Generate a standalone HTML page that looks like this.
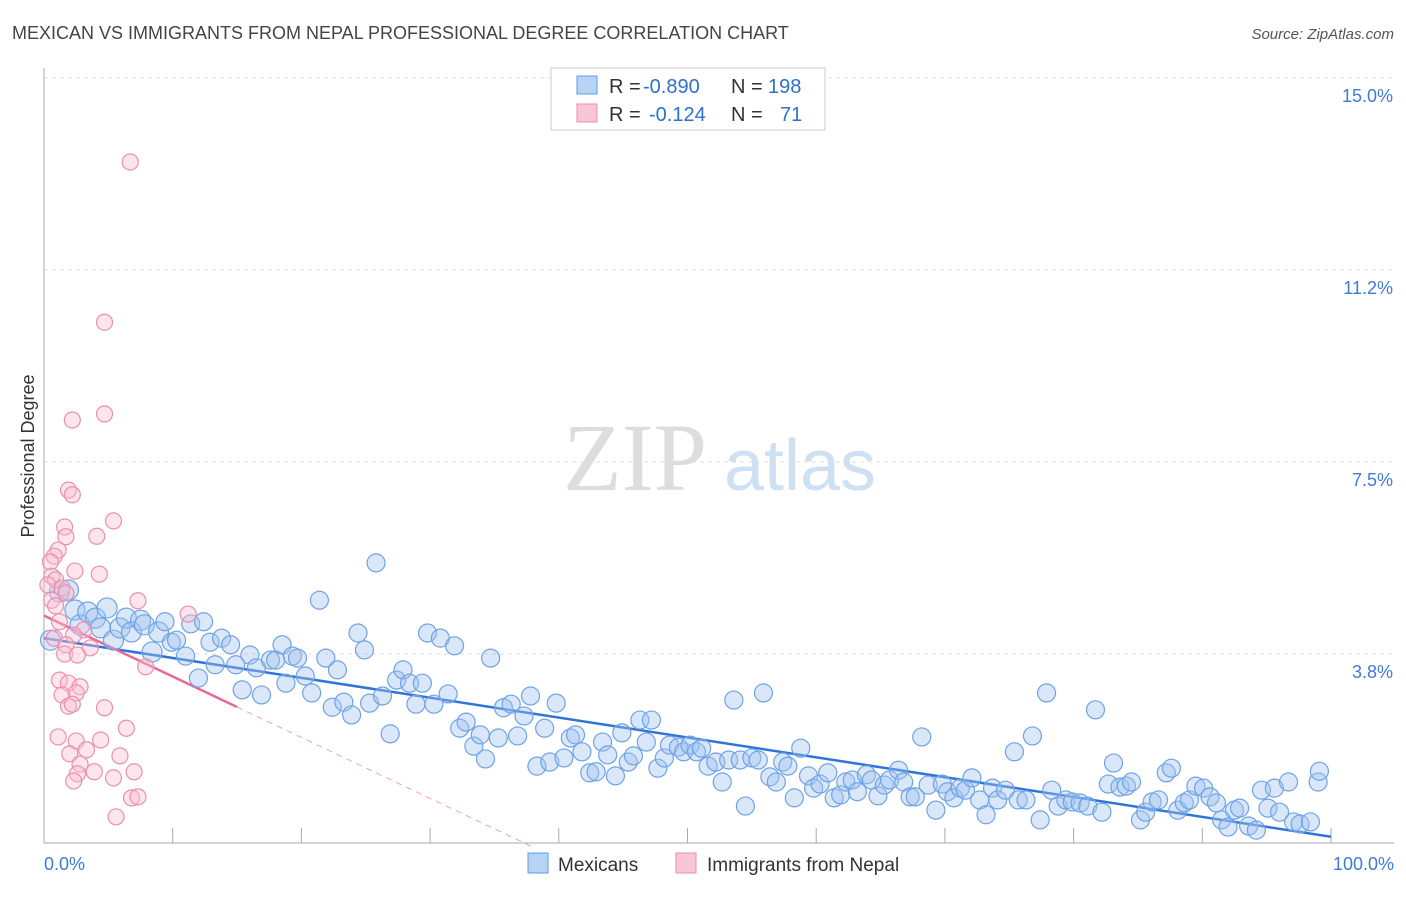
<!DOCTYPE html>
<html><head><meta charset="utf-8"><style>
body{margin:0;background:#fff;font-family:"Liberation Sans",sans-serif;}
svg text{font-family:"Liberation Sans",sans-serif;}
</style></head><body>
<svg id="chart" width="1406" height="892">
<text x="12" y="39" font-size="18" fill="#444">MEXICAN VS IMMIGRANTS FROM NEPAL PROFESSIONAL DEGREE CORRELATION CHART</text>
<text x="1394" y="39" font-size="15" fill="#555" font-style="italic" text-anchor="end">Source: ZipAtlas.com</text>
<text x="34" y="456" font-size="18" fill="#333" text-anchor="middle" transform="rotate(-90 34 456)">Professional Degree</text>
<g id="watermark">
<text x="635" y="490" font-size="96" fill="#ddd" text-anchor="middle" font-family="Liberation Serif" style="font-family:'Liberation Serif',serif">ZIP</text>
<text x="800" y="490" font-size="72" fill="#cfe0f3" text-anchor="middle">atlas</text>
</g>
<g id="grid"></g>
<g id="trends"></g>
<g id="points"></g>
<g id="legend">
<rect x="551" y="68" width="274" height="62" fill="#fff" stroke="#ccc"/>
<rect x="577" y="76" width="20" height="18" fill="#b8d4f5" stroke="#5b9be6"/>
<rect x="577" y="104" width="20" height="18" fill="#f9c6d4" stroke="#eb8fac"/>
<text x="609" y="93" font-size="20" fill="#333">R =</text>
<text x="643" y="93" font-size="20" fill="#2f6fd0">-0.890</text>
<text x="731" y="93" font-size="20" fill="#333">N =</text>
<text x="768" y="93" font-size="20" fill="#2f6fd0">198</text>
<text x="609" y="121" font-size="20" fill="#333">R =</text>
<text x="649" y="121" font-size="20" fill="#2f6fd0">-0.124</text>
<text x="731" y="121" font-size="20" fill="#333">N =</text>
<text x="780" y="121" font-size="20" fill="#2f6fd0">71</text>
</g>
<g id="bottom-legend">
<rect x="528" y="853" width="20" height="20" fill="#b8d4f5" stroke="#5b9be6"/>
<text x="558" y="871" font-size="19" fill="#333">Mexicans</text>
<rect x="676" y="853" width="20" height="20" fill="#f9c6d4" stroke="#eb8fac"/>
<text x="707" y="871" font-size="19" fill="#333">Immigrants from Nepal</text>
</g>
</svg>
<script>
const yTicks=[3.75,7.5,11.25,15];
const yTickLabels=["3.8%","7.5%","11.2%","15.0%"];
const xTickVals=[0,10,20,30,40,50,60,70,80,90,100];
const blueX=[0.5,1.2,1.9,2.4,2.8,3.4,4.0,4.4,4.9,5.4,5.9,6.4,6.8,7.5,7.8,8.4,8.9,9.4,9.9,10.3,11.0,11.4,12.0,12.4,12.9,13.3,13.8,14.5,14.9,15.4,16.0,16.5,16.9,17.6,18.0,18.5,18.8,19.3,19.7,20.3,20.8,21.4,21.9,22.4,22.8,23.3,23.9,24.4,24.9,25.3,25.8,26.3,26.9,27.4,27.9,28.4,28.9,29.4,29.8,30.3,30.8,31.4,31.9,32.3,32.8,33.4,33.9,34.3,34.7,35.3,35.7,36.3,36.8,37.3,37.8,38.3,38.9,39.3,39.8,40.4,40.9,41.3,41.8,42.4,42.9,43.4,43.8,44.4,44.9,45.4,45.8,46.3,46.8,47.2,47.7,48.2,48.6,49.3,49.7,50.2,50.7,51.1,51.6,52.2,52.7,53.2,53.6,54.1,54.5,55.0,55.5,55.9,56.4,56.9,57.4,57.8,58.3,58.8,59.4,59.8,60.3,60.9,61.4,61.9,62.3,62.8,63.2,63.9,64.3,64.8,65.3,65.7,66.4,66.8,67.3,67.7,68.2,68.7,69.3,69.8,70.2,70.7,71.2,71.6,72.1,72.7,73.2,73.7,74.1,74.7,75.4,75.7,76.3,76.8,77.4,77.9,78.3,78.8,79.4,79.9,80.5,81.1,81.7,82.2,82.7,83.1,83.6,84.1,84.5,85.2,85.6,86.1,86.6,87.2,87.6,88.1,88.6,89.0,89.5,90.1,90.6,91.1,91.5,92.0,92.5,92.9,93.6,94.2,94.6,95.1,95.6,96.0,96.7,97.1,97.6,98.4,99.0,99.1];
const blueY=[4.02,4.96,5.0,4.61,4.32,4.57,4.45,4.26,4.65,4.02,4.26,4.45,4.18,4.41,4.32,3.79,4.18,4.38,3.98,4.02,3.71,4.34,3.28,4.38,3.98,3.54,4.06,3.93,3.54,3.05,3.73,3.48,2.95,3.63,3.63,3.93,3.18,3.71,3.67,3.32,2.99,4.80,3.67,2.71,3.44,2.81,2.56,4.16,3.83,2.79,5.53,2.93,2.19,3.24,3.44,3.18,2.77,3.18,4.16,2.77,4.06,2.97,3.91,2.30,2.42,1.95,2.17,1.70,3.67,2.11,2.70,2.77,2.15,2.54,2.93,1.56,2.30,1.64,2.79,1.72,2.11,2.17,1.84,1.43,1.45,2.03,1.78,1.37,2.21,1.64,1.76,2.46,2.03,2.46,1.52,1.72,1.97,1.93,1.84,1.97,1.84,1.91,1.56,1.64,1.25,1.68,2.85,1.68,0.78,1.72,1.68,2.99,1.35,1.25,1.64,1.56,0.94,1.91,1.37,1.13,1.21,1.43,0.94,1.00,1.25,1.29,1.06,1.39,1.29,0.98,1.19,1.29,1.48,1.25,0.96,0.96,2.13,1.19,0.70,1.21,1.06,0.94,1.13,1.09,1.33,0.90,0.61,1.13,0.90,1.09,1.84,0.90,0.90,2.15,0.51,2.99,1.09,0.78,0.90,0.86,0.84,0.78,2.66,0.66,1.21,1.62,1.15,1.17,1.25,0.51,0.66,0.86,0.90,1.43,1.52,0.70,0.84,0.90,1.17,1.13,0.96,0.84,0.51,0.37,0.70,0.74,0.39,0.31,1.09,0.74,1.13,0.66,1.25,0.47,0.43,0.47,1.25,1.46];
const pinkX=[6.7,4.7,2.2,4.7,1.9,2.2,5.4,1.6,4.1,1.7,1.1,0.8,0.5,2.4,4.3,0.6,0.9,0.3,1.4,1.7,0.6,7.3,0.9,11.2,1.2,3.1,2.3,0.8,1.7,3.6,1.6,2.6,7.9,1.2,1.9,2.8,1.4,2.5,1.9,4.7,2.2,6.4,1.1,2.5,4.4,3.3,2.0,5.9,2.8,3.9,2.6,7.0,5.4,2.3,6.8,7.3,5.6];
const pinkY=[13.36,10.23,8.32,8.44,6.95,6.86,6.35,6.23,6.05,6.04,5.78,5.66,5.55,5.37,5.31,5.27,5.20,5.10,5.04,4.94,4.80,4.79,4.69,4.53,4.38,4.22,4.12,4.06,3.93,3.87,3.75,3.73,3.50,3.24,3.18,3.11,2.95,2.99,2.73,2.70,2.77,2.30,2.13,2.05,2.07,1.88,1.80,1.76,1.60,1.45,1.41,1.45,1.33,1.27,0.94,0.96,0.57];
const blueTrend=[4.06,0.18];
const pinkTrend=[4.5,-0.119];
const NS="http://www.w3.org/2000/svg";
const X0=44,X1=1331,Y0=846,PPY=51.2;
const sx=v=>X0+(X1-X0)*v/100, sy=v=>Y0-v*PPY;
function mk(tag,attrs,parent){const e=document.createElementNS(NS,tag);for(const k in attrs)e.setAttribute(k,attrs[k]);parent.appendChild(e);return e;}
const grid=document.getElementById('grid');
yTicks.forEach((t,i)=>{
 const l=mk('line',{x1:X0,x2:1394,y1:sy(t),y2:sy(t),stroke:'#ddd','stroke-dasharray':'4,4'},grid);
 
 
 const tx=mk('text',{x:1393,y:sy(t)+24,'font-size':18,fill:'#3d7bd8','text-anchor':'end'},grid);
 tx.textContent=yTickLabels[i];
 
 
});
const ax=mk('line',{x1:X0,x2:X0,y1:68,y2:843,stroke:'#aaa'},grid);


const xa=mk('line',{x1:X0,x2:1394,y1:843,y2:843,stroke:'#aaa'},grid);


xTickVals.forEach(v=>{
 const t=mk('line',{x1:sx(v),x2:sx(v),y1:828,y2:843,stroke:'#aaa'},grid);
 
 
});
const xl0=mk('text',{x:44,y:870,'font-size':18,fill:'#3d7bd8'},grid);xl0.textContent="0.0%";


const xl1=mk('text',{x:1394,y:870,'font-size':18,fill:'#3d7bd8','text-anchor':'end'},grid);xl1.textContent="100.0%";


const pts=document.getElementById('points');
blueX.forEach((x,i)=>{
 const c=mk('circle',{cx:sx(x),cy:sy(blueY[i]),r:x<9?10:9,fill:'rgba(160,196,240,0.4)',stroke:'#6ea3e6','stroke-width':1.2},pts);
 
 
});
pinkX.forEach((x,i)=>{
 const c=mk('circle',{cx:sx(x),cy:sy(pinkY[i]),r:8,fill:'rgba(248,190,208,0.4)',stroke:'#ec8fae','stroke-width':1.2},pts);
 
 
});
const tr=document.getElementById('trends');
const bl=mk('line',{x1:sx(0),y1:sy(blueTrend[0]),x2:sx(100),y2:sy(blueTrend[1]),stroke:'#2f74d8','stroke-width':2.5},tr);


const pf=x=>pinkTrend[0]+pinkTrend[1]*x;
const pl=mk('line',{x1:sx(0),y1:sy(pf(0)),x2:sx(15),y2:sy(pf(15)),stroke:'#e8679a','stroke-width':2.5},tr);


const xe=-pinkTrend[0]/pinkTrend[1];
const pd=mk('line',{x1:sx(15),y1:sy(pf(15)),x2:sx(xe),y2:sy(0),stroke:'#f0a0bc','stroke-width':1,'stroke-dasharray':'6,5'},tr);


</script>
</body></html>
